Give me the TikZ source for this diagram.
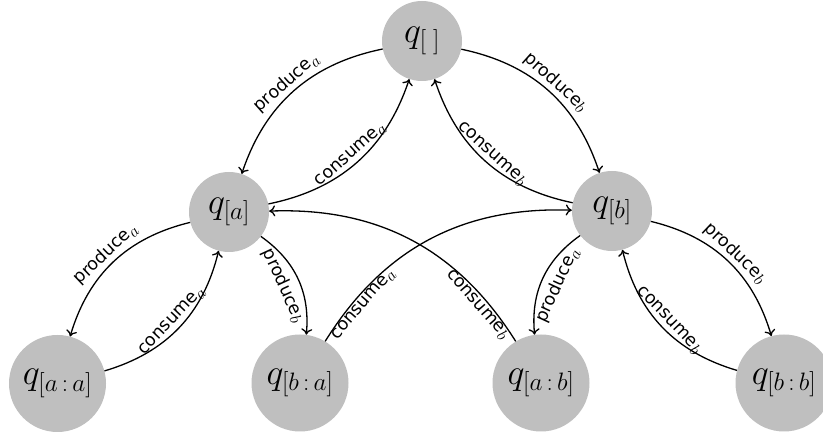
\RequirePackage{fix-cm}
\documentclass[tikz,border=0pt]{standalone}
\usepackage{fontspec}
\newfontfamily\labelfont{DejaVu Sans}
\usetikzlibrary{arrows.meta}
% subscript of a transition label, set in math italic at nearly the label size
\newcommand{\lsub}[1]{{\fontsize{24}{24}\selectfont$_{#1}$}}
\begin{document}
\begin{tikzpicture}[x=1pt,y=1pt,
  state/.style={circle, fill=black!25, inner sep=0pt, font=\fontsize{36}{40}\selectfont},
  small/.style={state, minimum size=80pt},
  wide/.style={state, minimum size=97pt},
  trans/.style={-{To[length=6pt,width=11pt]}, line width=1.3pt},
  lbl/.style={sloped, inner sep=2pt, font=\labelfont\fontsize{17.5}{20}\selectfont}
]
\useasboundingbox (0,0) rectangle (823,438);
% states of the two-slot buffer
\node[small] (q0)  at (422,397) {$q_{[\;]}$};
\node[small] (qa)  at (229,226) {$q_{[a]}$};
\node[small] (qb)  at (612,227) {$q_{[b]}$};
\node[wide]  (qaa) at (57.5,54.5) {$q_{[a\,{:}\,a]}$};
\node[wide]  (qba) at (300,55) {$q_{[b\,{:}\,a]}$};
\node[wide]  (qab) at (541,55) {$q_{[a\,{:}\,b]}$};
\node[wide]  (qbb) at (784,55) {$q_{[b\,{:}\,b]}$};
% transitions
\draw[trans] (q0) to[bend right=30] node[lbl, above] {produce\lsub{a}} (qa);
\draw[trans] (qa) to[bend right=30] node[lbl, above] {consume\lsub{a}} (q0);
\draw[trans] (q0) to[bend left=30] node[lbl, above] {produce\lsub{b}} (qb);
\draw[trans] (qb) to[bend left=30] node[lbl, above] {consume\lsub{b}} (q0);
\draw[trans] (qa) to[bend right=30] node[lbl, above] {produce\lsub{a}} (qaa);
\draw[trans] (qaa) to[bend right=30] node[lbl, above] {consume\lsub{a}} (qa);
\draw[trans] (qa) to[bend left=30] node[lbl, below=5pt] {produce\lsub{b}} (qba);
\draw[trans] (qba) to[bend left=30] node[lbl, below, pos=0.17] {consume\lsub{a}} (qb);
\draw[trans] (qab) to[bend right=30] node[lbl, below, pos=0.17] {consume\lsub{b}} (qa);
\draw[trans] (qb) to[bend right=30] node[lbl, below=5pt] {produce\lsub{a}} (qab);
\draw[trans] (qb) to[bend left=30] node[lbl, above] {produce\lsub{b}} (qbb);
\draw[trans] (qbb) to[bend left=30] node[lbl, above] {consume\lsub{b}} (qb);
\end{tikzpicture}
\end{document}
